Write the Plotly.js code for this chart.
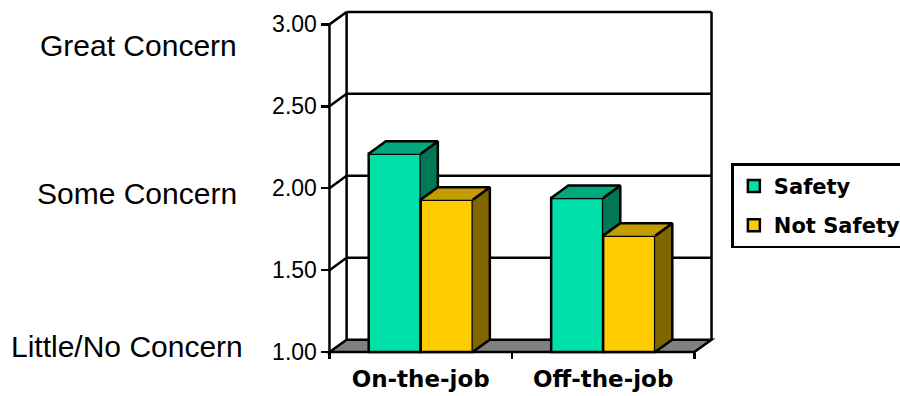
<!DOCTYPE html>
<html>
<head>
<meta charset="utf-8">
<script src="https://cdn.plot.ly/plotly-3.0.1.min.js"></script>
<style>
  html, body { margin: 0; padding: 0; background: #ffffff; }
  #chart { width: 900px; height: 396px; }
</style>
</head>
<body>
<div id="chart"></div>
<script>
// ---- data ----
const categories = ['On-the-job', 'Off-the-job'];
const seriesNames = ['Safety', 'Not Safety'];
const safetyValues = [2.21, 1.94];
const notSafetyValues = [1.93, 1.71];
const yTickValues = [1.0, 1.5, 2.0, 2.5, 3.0];
const yTickLabels = ['1.00', '1.50', '2.00', '2.50', '3.00'];
const concernLevels = [3, 2, 1];
const concernLabels = ['Great Concern', 'Some Concern', 'Little/No Concern'];

// ---- pseudo-3D box geometry (axis units) ----
const FLOOR = 1, CEIL = 3;
const DX = 0.094, DY = 0.076;          // depth offset of the back wall
const PADX = 0.03, PADY = 0.03;        // breathing room around the box
const BAR_W = 0.285;                   // width of one bar
const PX_X = 182.5, PX_Y = 164;        // pixels per axis unit
const FRONT_LEFT = 329, FRONT_BOTTOM = 352;
const W = 900, H = 396;
const LW = 2.5;                        // outline width

const faceColors = [
  { front: '#00E0A8', top: '#00A87E', side: '#007858' },
  { front: '#FFCC00', top: '#C49C00', side: '#806600' }
];
const EDGE = '#000000';

const nCat = categories.length;
const xRange = [-PADX, nCat + DX + PADX];
const yRange = [FLOOR - PADY, CEIL + DY + PADY];
const plotW = (xRange[1] - xRange[0]) * PX_X;
const plotH = (yRange[1] - yRange[0]) * PX_Y;
const ml = FRONT_LEFT - PADX * PX_X;
const mr = W - ml - plotW;
const mb = H - FRONT_BOTTOM - PADY * PX_Y;
const mt = H - mb - plotH;
const paperX = px => (px - ml) / plotW;
const paperY = py => (H - mb - py) / plotH;

const allSeries = [safetyValues, notSafetyValues];
const centers = categories.map((c, i) => i + 0.5);
const offsets = [-BAR_W, 0];

// ---- traces ----
const traces = [];

// front faces as real bars
allSeries.forEach((vals, s) => {
  traces.push({
    type: 'bar',
    name: seriesNames[s],
    legendgroup: seriesNames[s],
    x: centers,
    y: vals.map(v => v - FLOOR),
    base: FLOOR,
    width: BAR_W,
    offset: offsets[s],
    marker: { color: faceColors[s].front, line: { color: EDGE, width: LW } },
    hoverinfo: 'skip'
  });
});

// side and top faces, derived from the same values
allSeries.forEach((vals, s) => {
  const sideX = [], sideY = [], topX = [], topY = [];
  vals.forEach((v, i) => {
    const x0 = centers[i] + offsets[s];
    const x1 = x0 + BAR_W;
    // a neighbour standing right of this bar hides the lower part of the side
    const next = allSeries[s + 1];
    const base = next ? Math.min(next[i], v) : FLOOR;
    sideX.push(x1, x1 + DX, x1 + DX, x1, null);
    sideY.push(base, base + DY, v + DY, v, null);
    topX.push(x0, x0 + DX, x1 + DX, x1, null);
    topY.push(v, v + DY, v + DY, v, null);
  });
  traces.push({
    type: 'scatter', mode: 'lines', x: sideX, y: sideY, fill: 'toself',
    fillcolor: faceColors[s].side, line: { color: EDGE, width: LW },
    showlegend: false, hoverinfo: 'skip'
  });
  traces.push({
    type: 'scatter', mode: 'lines', x: topX, y: topY, fill: 'toself',
    fillcolor: faceColors[s].top, line: { color: EDGE, width: LW },
    showlegend: false, hoverinfo: 'skip'
  });
});

// ---- box frame: floor, walls, gridlines (behind the bars) ----
const shapes = [];
const line = (x0, y0, x1, y1) => ({
  type: 'line', xref: 'x', yref: 'y', layer: 'below',
  x0, y0, x1, y1, line: { color: EDGE, width: LW }
});
shapes.push({
  type: 'path', xref: 'x', yref: 'y', layer: 'below',
  path: `M0,${FLOOR} L${nCat},${FLOOR} L${nCat + DX},${FLOOR + DY} L${DX},${FLOOR + DY} Z`,
  fillcolor: '#808080', line: { color: EDGE, width: LW }
});
yTickValues.forEach(t => {
  if (t > FLOOR) {
    shapes.push(line(0, t, DX, t + DY));
    shapes.push(line(DX, t + DY, nCat + DX, t + DY));
  }
});
shapes.push(line(0, FLOOR, 0, CEIL));
shapes.push(line(DX, FLOOR + DY, DX, CEIL + DY));
shapes.push(line(nCat + DX, FLOOR + DY, nCat + DX, CEIL + DY));

// ---- side captions for the rating scale ----
const captionRight = [239, 239, 245];
const captionShift = [-21, -5, 6];
const annotations = concernLevels.map((lv, i) => ({
  xref: 'paper', yref: 'y',
  x: paperX(captionRight[i]), y: lv, yshift: captionShift[i],
  xanchor: 'right', yanchor: 'middle',
  text: concernLabels[i], showarrow: false,
  font: { family: 'Liberation Sans, Arial, sans-serif', size: 30, color: '#000' }
}));

const layout = {
  width: W, height: H,
  margin: { l: ml, r: mr, t: mt, b: mb, pad: 0, autoexpand: false },
  paper_bgcolor: '#ffffff', plot_bgcolor: '#ffffff',
  barmode: 'overlay',
  showlegend: true,
  legend: {
    x: paperX(731), y: paperY(163), xanchor: 'left', yanchor: 'top',
    bordercolor: EDGE, borderwidth: 2.5, bgcolor: '#ffffff',
    tracegroupgap: 9,
    font: { family: 'DejaVu Sans, Verdana, sans-serif', size: 21, color: '#000', weight: 'bold' }
  },
  xaxis: {
    range: xRange, anchor: 'free', position: PADY / (yRange[1] - yRange[0]),
    showgrid: false, zeroline: false, showline: false,
    tickvals: centers, ticktext: categories, ticks: '',
    ticklabelstandoff: 11,
    tickfont: { family: 'DejaVu Sans, Verdana, sans-serif', size: 23, color: '#000', weight: 'bold' },
    minor: { tickvals: categories.map((c, i) => i).concat([nCat]), ticks: 'outside',
             ticklen: 6, tickwidth: LW, tickcolor: EDGE, showgrid: false },
    fixedrange: true
  },
  yaxis: {
    range: yRange, anchor: 'free', position: PADX / (xRange[1] - xRange[0]),
    showgrid: false, zeroline: false, showline: false,
    tickvals: yTickValues, ticktext: yTickLabels,
    ticks: 'outside', ticklen: 8, tickwidth: LW, tickcolor: EDGE,
    tickfont: { family: 'Liberation Sans, Arial, sans-serif', size: 23, color: '#000' },
    fixedrange: true
  },
  shapes: shapes,
  annotations: annotations
};

Plotly.newPlot('chart', traces, layout, { displayModeBar: false, staticPlot: true });
</script>
</body>
</html>
